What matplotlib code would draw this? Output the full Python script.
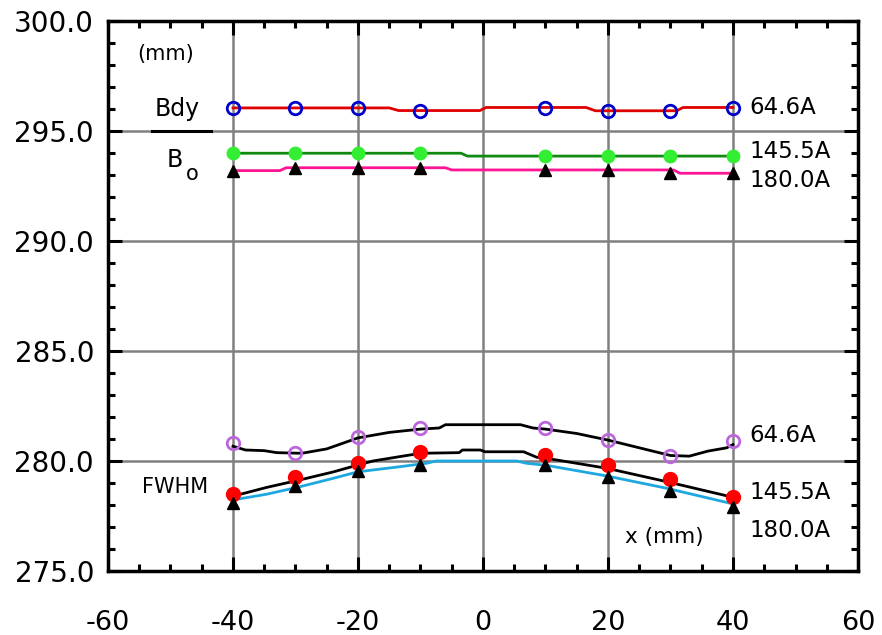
import numpy as np
import matplotlib
matplotlib.use("Agg")
import matplotlib.pyplot as plt
from matplotlib.ticker import MultipleLocator, FormatStrFormatter

plt.rcParams['axes.unicode_minus'] = False

# measurement positions (mm)
x_pts = [-40, -30, -20, -10, 10, 20, 30, 40]

# Bdy (upper group)
bdy_646 = [296.05, 296.05, 296.05, 295.92, 296.06, 295.91, 295.91, 296.06]
bo_1455 = [293.99, 293.99, 293.99, 293.99, 293.86, 293.86, 293.86, 293.86]
bo_1800 = [293.18, 293.32, 293.32, 293.32, 293.23, 293.23, 293.09, 293.09]

# traced curves for the upper group
bdy_line_x = [-40, -15, -13.5, -0.5, 0.5, 16.5, 18, 31, 32, 40]
bdy_line_y = [296.05, 296.05, 295.93, 295.93, 296.07, 296.07, 295.92, 295.92, 296.07, 296.07]
bo1455_line_x = [-40, -3.5, -2.5, 40]
bo1455_line_y = [293.99, 293.99, 293.86, 293.86]
bo1800_line_x = [-40, -32.5, -31.5, -6, -5, 30.5, 31.5, 40]
bo1800_line_y = [293.2, 293.2, 293.33, 293.33, 293.23, 293.23, 293.08, 293.08]

# FWHM (lower group)
fwhm_646 = [280.8, 280.38, 281.08, 281.49, 281.49, 280.95, 280.23, 280.9]
fwhm_1455 = [278.49, 279.29, 279.9, 280.39, 280.27, 279.82, 279.18, 278.38]
fwhm_1800 = [278.08, 278.86, 279.55, 279.82, 279.82, 279.29, 278.65, 277.9]

f646_line_x = [-40, -38, -35, -33, -29, -25, -20, -15, -10, -7, -6, 6, 8, 10, 15, 20, 25, 30, 33, 36, 39, 40]
f646_line_y = [280.67, 280.5, 280.47, 280.38, 280.35, 280.55, 281.05, 281.3, 281.45, 281.5, 281.65,
               281.65, 281.5, 281.45, 281.25, 280.95, 280.6, 280.25, 280.22, 280.45, 280.6, 280.75]
f1455_line_x = [-40, -34.6, -29.3, -24, -20, -17.6, -13.3, -10, -3.8, -3.3, -0.4, 0.3, 6.5, 8.6, 10.2, 19.8, 29.4, 40]
f1455_line_y = [278.4, 278.8, 279.14, 279.5, 279.82, 280.0, 280.2, 280.35, 280.38, 280.5, 280.5, 280.42,
                280.42, 280.17, 280.12, 279.67, 279.06, 278.35]
f1800_line_x = [-40, -34.6, -29.3, -24, -20, -13.3, -9, -7.5, 5.4, 6.9, 10.2, 19.8, 29.4, 40]
f1800_line_y = [278.23, 278.49, 278.83, 279.21, 279.51, 279.74, 279.9, 280.0, 280.0, 279.9, 279.8,
                279.32, 278.76, 278.05]

# current labels on the right
upper_labels = ['64.6A', '145.5A', '180.0A']
lower_labels = ['64.6A', '145.5A', '180.0A']

fig = plt.figure(figsize=(8.82, 6.35), dpi=100)
ax = fig.add_axes([0.1224, 0.1008, 0.8504, 0.8661])

# upper group
ax.plot(bdy_line_x, bdy_line_y, color='#e00000', lw=2, zorder=3)
ax.plot(bo1455_line_x, bo1455_line_y, color='#108a10', lw=2, zorder=3)
ax.plot(bo1800_line_x, bo1800_line_y, color='#ff1493', lw=2, zorder=3)
ax.plot(x_pts, bdy_646, 'o', ms=9, mfc='none', mec='#0000cc', mew=2, zorder=4)
ax.plot(x_pts, bo_1455, 'o', ms=9, color='#33ee33', zorder=4)
ax.plot(x_pts, bo_1800, '^', ms=9, color='black', zorder=4)

# lower group
ax.plot(f646_line_x, f646_line_y, color='black', lw=2, zorder=3)
ax.plot(f1455_line_x, f1455_line_y, color='black', lw=2, zorder=3)
ax.plot(f1800_line_x, f1800_line_y, color='#1ea8e0', lw=2, zorder=3)
ax.plot(x_pts, fwhm_646, 'o', ms=9, mfc='none', mec='#bb66dd', mew=2, zorder=4)
ax.plot(x_pts, fwhm_1455, 'o', ms=10, color='#ff0000', zorder=4)
ax.plot(x_pts, fwhm_1800, '^', ms=9, color='black', zorder=5)

ax.set_xlim(-60, 60)
ax.set_ylim(275, 300)
ax.xaxis.set_major_locator(MultipleLocator(20))
ax.xaxis.set_minor_locator(MultipleLocator(5))
ax.yaxis.set_major_locator(MultipleLocator(5))
ax.yaxis.set_minor_locator(MultipleLocator(1))
ax.yaxis.set_major_formatter(FormatStrFormatter('%.1f'))
ax.grid(True, which='major', color='#808080', lw=1.8, zorder=1)
ax.tick_params(which='both', direction='in', top=True, right=True, width=2.2, labelsize=20)
ax.tick_params(which='major', length=10)
ax.tick_params(which='minor', length=5)
ax.tick_params(axis='x', pad=28, labelsize=19.5)
ax.tick_params(axis='y', pad=10)
for s in ax.spines.values():
    s.set_linewidth(2.5)

# annotations
ax.text(-55.3, 298.5, '(mm)', fontsize=15, va='center')
ax.text(-52.5, 296.0, 'Bdy', fontsize=17, va='center')
ax.plot([-53, -43.5], [295, 295], color='black', lw=2.2, zorder=3)
ax.text(-50.6, 293.7, 'B', fontsize=17, va='center')
ax.text(-47.5, 293.05, 'o', fontsize=15, va='center')
ax.text(-54.5, 278.8, 'FWHM', fontsize=15, va='center')
ax.text(22.7, 276.55, 'x (mm)', fontsize=15.5, va='center')
for y, s in zip([296.09, 294.05, 292.77], upper_labels):
    ax.text(42.6, y, s, fontsize=16.5, va='center')
for y, s in zip([281.18, 278.56, 276.86], lower_labels):
    ax.text(42.6, y, s, fontsize=16.5, va='center')

fig.savefig('out.png', dpi=100)
